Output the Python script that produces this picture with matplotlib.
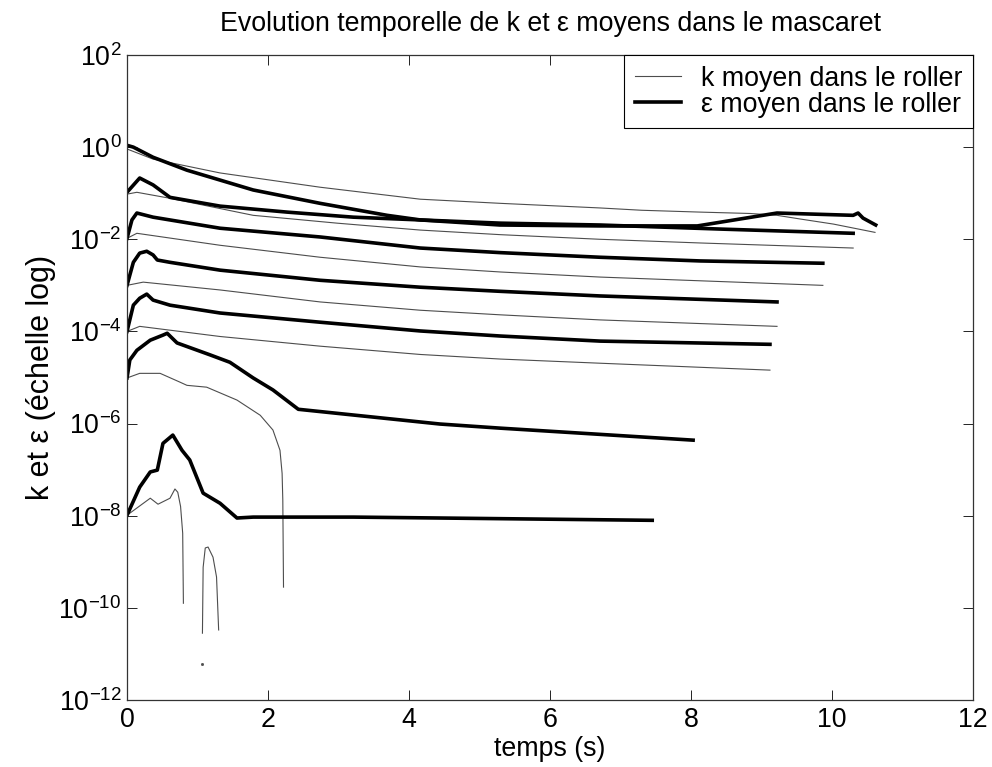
import numpy as np
import matplotlib
matplotlib.use("Agg")
import matplotlib.pyplot as plt
from matplotlib.ticker import FixedLocator, FuncFormatter, NullLocator

# values, as log10 of k / epsilon
# NaN marks where the curve leaves the log axis (negative values)
t_k1 = [0, 0.37, 1.32, 2.74, 4.16, 5.3, 6.71, 7.3, 8.13, 8.84, 9.22, 9.55, 10.02, 10.61]
k1 = [-0.04, -0.26, -0.56, -0.87, -1.13, -1.22, -1.32, -1.37, -1.41, -1.44, -1.48, -1.56, -1.67, -1.85]
t_e1 = [0, 0.09, 0.37, 0.85, 1.79, 2.74, 3.69, 4.16, 5.29, 6.71, 8.09, 9.22, 10.3, 10.37, 10.44, 10.62]
e1 = [0.04, 0.0, -0.22, -0.50, -0.93, -1.22, -1.48, -1.58, -1.69, -1.71, -1.71, -1.43, -1.48, -1.43, -1.54, -1.69]

t_k2 = [0, 0.14, 0.61, 1.79, 2.98, 4.16, 5.3, 6.71, 8.13, 10.3]
k2 = [-1.02, -0.98, -1.11, -1.48, -1.65, -1.80, -1.9, -2.0, -2.08, -2.19]
t_e2 = [0, 0.18, 0.37, 0.61, 1.32, 2.27, 3.21, 4.16, 5.3, 6.71, 8.45, 10.3]
e2 = [-0.98, -0.67, -0.82, -1.09, -1.28, -1.41, -1.52, -1.58, -1.65, -1.69, -1.78, -1.87]

t_k3 = [0, 0.14, 1.32, 2.74, 4.16, 5.3, 6.71, 9.87]
k3 = [-1.98, -1.87, -2.13, -2.39, -2.6, -2.71, -2.82, -3.0]
t_e3 = [0, 0.07, 0.14, 0.37, 1.32, 2.74, 4.16, 5.3, 6.71, 8.13, 9.87]
e3 = [-1.98, -1.58, -1.43, -1.52, -1.76, -1.95, -2.19, -2.29, -2.39, -2.47, -2.52]

t_k4 = [0, 0.23, 1.32, 2.74, 4.16, 5.3, 6.71, 9.22]
k4 = [-3.0, -2.93, -3.1, -3.36, -3.54, -3.64, -3.75, -3.89]
t_e4 = [0, 0.09, 0.18, 0.28, 0.37, 0.43, 0.61, 1.32, 2.74, 4.16, 5.3, 6.71, 9.22]
e4 = [-3.0, -2.5, -2.3, -2.26, -2.34, -2.45, -2.5, -2.67, -2.89, -3.04, -3.13, -3.23, -3.36]

t_k5 = [0, 0.18, 1.32, 2.74, 4.16, 5.3, 6.71, 9.12]
k5 = [-4.0, -3.89, -4.11, -4.32, -4.5, -4.6, -4.69, -4.84]
t_e5 = [0, 0.09, 0.18, 0.28, 0.37, 0.61, 1.32, 2.74, 4.16, 5.3, 6.71, 9.12]
e5 = [-4.0, -3.43, -3.28, -3.19, -3.32, -3.43, -3.6, -3.8, -3.99, -4.1, -4.21, -4.28]

t_k6 = [0, 0.18, 0.47, 0.75, 0.85, 1.13, 1.56, 1.89, 2.07, 2.17, 2.2, 2.21, 2.22]
k6 = [-5.01, -4.91, -4.91, -5.10, -5.17, -5.21, -5.49, -5.82, -6.14, -6.58, -7.08, -7.66, -9.55]
t_e6 = [0, 0.04, 0.14, 0.33, 0.51, 0.57, 0.71, 1.18, 1.46, 1.79, 2.07, 2.43, 4.44, 5.3, 8.03]
e6 = [-5.01, -4.62, -4.41, -4.19, -4.08, -4.04, -4.25, -4.51, -4.67, -5.01, -5.27, -5.69, -6.01, -6.1, -6.36]

t_k7 = [0, 0.33, 0.44, 0.61, 0.68, 0.72, 0.76, 0.79, 0.8,
        0.9,
        1.07, 1.08, 1.11, 1.15, 1.22, 1.27, 1.30]
k7 = [-7.99, -7.62, -7.75, -7.62, -7.42, -7.49, -7.8, -8.38, -9.9,
      np.nan,
      -10.55, -9.12, -8.7, -8.68, -8.9, -9.33, -10.48]
t_e7 = [0, 0.18, 0.33, 0.43, 0.51, 0.65, 0.78, 0.89, 1.08, 1.32, 1.56, 1.79, 3.21, 4.44, 7.45]
e7 = [-7.99, -7.38, -7.05, -7.01, -6.43, -6.25, -6.58, -6.79, -7.51, -7.73, -8.05, -8.03, -8.03, -8.05, -8.1]

# isolated point of k below the arc
t_dot = [1.06]
k_dot = [-11.22]

k_series = [(t_k1, k1), (t_k2, k2), (t_k3, k3), (t_k4, k4), (t_k5, k5), (t_k6, k6), (t_k7, k7)]
e_series = [(t_e1, e1), (t_e2, e2), (t_e3, e3), (t_e4, e4), (t_e5, e5), (t_e6, e6), (t_e7, e7)]

plt.rcParams['font.family'] = ['Liberation Sans', 'DejaVu Sans']
plt.rcParams['mathtext.fontset'] = 'custom'
plt.rcParams['mathtext.rm'] = 'Liberation Sans'

fs = 19.3

fig = plt.figure(figsize=(9.92, 7.67), dpi=100)
ax = fig.add_axes([127 / 992, 1 - 700 / 767, 846 / 992, 645 / 767])

for i, (t, v) in enumerate(k_series):
    ax.plot(t, np.power(10.0, v), color='0.3', lw=0.8,
            label='k moyen dans le roller' if i == 0 else None)
for i, (t, v) in enumerate(e_series):
    ax.plot(t, np.power(10.0, v), color='black', lw=2.6,
            label='ε moyen dans le roller' if i == 0 else None)
ax.plot(t_dot, np.power(10.0, k_dot), ls='none', marker='s', ms=1, color='0.3')

ax.set_yscale('log')
ax.set_xlim(0, 12)
ax.set_ylim(1e-12, 1e2)
ax.set_xticks([0, 2, 4, 6, 8, 10, 12])
ax.yaxis.set_major_locator(FixedLocator([10.0 ** p for p in range(-12, 3, 2)]))
ax.yaxis.set_minor_locator(NullLocator())
ax.yaxis.set_major_formatter(FuncFormatter(
    lambda v, pos: r'$\mathregular{10^{%d}}$' % round(np.log10(v))))
ax.tick_params(direction='in', length=7, width=0.6, labelsize=fs,
               top=True, right=True)
ax.tick_params(axis='x', pad=5)
ax.tick_params(axis='y', pad=4)
for s in ax.spines.values():
    s.set_linewidth(0.9)
    s.set_color('0.2')

ax.set_xlabel('temps (s)', fontsize=fs, labelpad=2)
ax.set_ylabel('k et ε (échelle log)', fontsize=22, labelpad=2)
ax.set_title('Evolution temporelle de k et ε moyens dans le mascaret', fontsize=fs, pad=17)

leg = ax.legend(loc='upper right', borderaxespad=0, fancybox=False,
                edgecolor='black', framealpha=1, fontsize=fs,
                handlelength=1.7, handletextpad=0.75, borderpad=0.4,
                labelspacing=0.0)
leg.get_frame().set_linewidth(0.8)

fig.savefig('out.png', dpi=100)
